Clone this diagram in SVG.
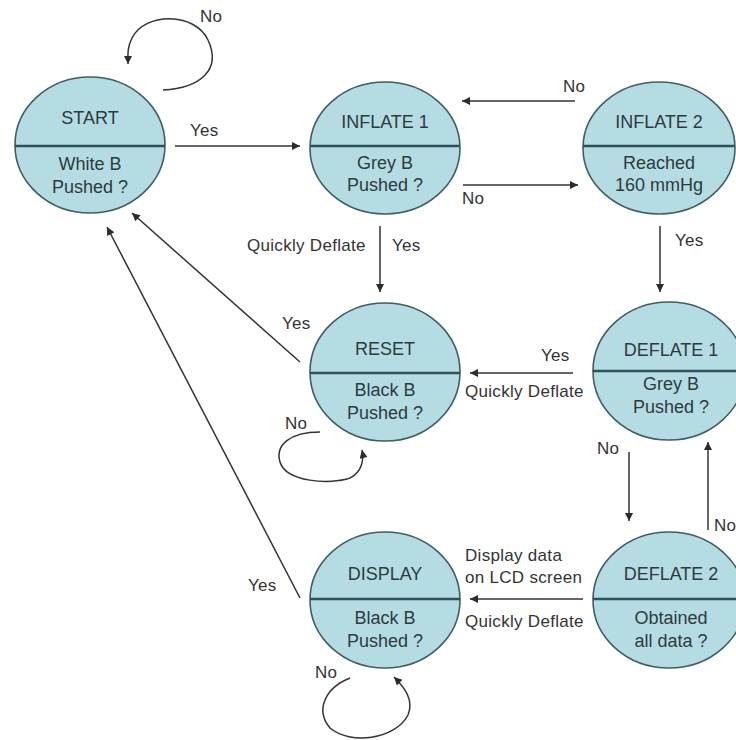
<svg xmlns="http://www.w3.org/2000/svg" width="736" height="740" viewBox="0 0 736 740">
<defs>
<marker id="ah" viewBox="0 0 10 10" refX="10" refY="5" markerWidth="9" markerHeight="8" markerUnits="userSpaceOnUse" orient="auto">
<path d="M0,0 L10,5 L0,10 z" fill="#2b2b2b"/>
</marker>
<style>
.node ellipse{fill:#b5dce2;stroke:#3f5d63;stroke-width:1.6}
.node line{stroke:#2e5058;stroke-width:2.6}
.nt{font-family:"Liberation Sans",Arial,sans-serif;font-size:18px;fill:#2c3b40;text-anchor:middle}
.lb{font-family:"Liberation Sans",Arial,sans-serif;font-size:17px;fill:#333;letter-spacing:0.3px}
.edge{fill:none;stroke:#333;stroke-width:1.5;marker-end:url(#ah)}
</style>
</defs>
<rect width="736" height="740" fill="#fff"/>
<g id="connectors">
<path class="edge" d="M163,90 C200,88 222,70 208,40 C195,12 145,12 132,38 C127,48 128,55 128,64"/>
<path class="edge" d="M175,146 L300,146"/>
<path class="edge" d="M575,101 L462,101"/>
<path class="edge" d="M463,185 L578,185"/>
<path class="edge" d="M380,226 L380,292"/>
<path class="edge" d="M660,226 L660,292"/>
<path class="edge" d="M573,373 L470,373"/>
<path class="edge" d="M300,362 L132,213"/>
<path class="edge" d="M320,432 C290,432 275,445 280,462 C286,482 330,485 350,478 C362,472 364,460 362,450"/>
<path class="edge" d="M629,452 L629,521"/>
<path class="edge" d="M708,530 L708,442"/>
<path class="edge" d="M583,599 L470,599"/>
<path class="edge" d="M300,598 L107,227"/>
<path class="edge" d="M350,678 C325,688 315,710 330,728 C350,745 395,740 408,715 C414,700 405,688 394,677"/>
</g>
<g id="START" class="node"><ellipse cx="90" cy="145" rx="75" ry="68"/><line x1="15" y1="146" x2="165" y2="146"/>
<text class="nt" x="90" y="124">START</text><text class="nt" x="90" y="170">White B</text><text class="nt" x="90" y="193">Pushed ?</text></g>
<g id="INFLATE1" class="node"><ellipse cx="385" cy="148" rx="75" ry="66"/><line x1="310" y1="146" x2="460" y2="146"/>
<text class="nt" x="385" y="128">INFLATE 1</text><text class="nt" x="385" y="169">Grey B</text><text class="nt" x="385" y="191">Pushed ?</text></g>
<g id="INFLATE2" class="node"><ellipse cx="659" cy="148" rx="76" ry="66"/><line x1="583" y1="146" x2="735" y2="146"/>
<text class="nt" x="659" y="128">INFLATE 2</text><text class="nt" x="659" y="169">Reached</text><text class="nt" x="659" y="191">160 mmHg</text></g>
<g id="RESET" class="node"><ellipse cx="385" cy="372" rx="75" ry="69"/><line x1="310" y1="373" x2="460" y2="373"/>
<text class="nt" x="385" y="355">RESET</text><text class="nt" x="385" y="396">Black B</text><text class="nt" x="385" y="419">Pushed ?</text></g>
<g id="DEFLATE1" class="node"><ellipse cx="669" cy="371" rx="76" ry="69"/><line x1="593" y1="371" x2="745" y2="371"/>
<text class="nt" x="671" y="356">DEFLATE 1</text><text class="nt" x="671" y="390">Grey B</text><text class="nt" x="671" y="413">Pushed ?</text></g>
<g id="DEFLATE2" class="node"><ellipse cx="669" cy="600" rx="76" ry="68"/><line x1="593" y1="599" x2="745" y2="599"/>
<text class="nt" x="671" y="580">DEFLATE 2</text><text class="nt" x="671" y="624">Obtained</text><text class="nt" x="671" y="647">all data ?</text></g>
<g id="DISPLAY" class="node"><ellipse cx="385" cy="600" rx="75" ry="68"/><line x1="310" y1="599" x2="460" y2="599"/>
<text class="nt" x="385" y="580">DISPLAY</text><text class="nt" x="385" y="624">Black B</text><text class="nt" x="385" y="647">Pushed ?</text></g>
<g id="labels">
<text class="lb" x="200" y="22">No</text>
<text class="lb" x="190" y="136">Yes</text>
<text class="lb" x="563" y="92">No</text>
<text class="lb" x="462" y="204">No</text>
<text class="lb" x="247" y="251">Quickly Deflate</text>
<text class="lb" x="392" y="251">Yes</text>
<text class="lb" x="675" y="246">Yes</text>
<text class="lb" x="282" y="329">Yes</text>
<text class="lb" x="541" y="361">Yes</text>
<text class="lb" x="465" y="397">Quickly Deflate</text>
<text class="lb" x="285" y="429">No</text>
<text class="lb" x="597" y="454">No</text>
<text class="lb" x="714" y="531">No</text>
<text class="lb" x="465" y="561">Display data</text>
<text class="lb" x="465" y="583">on LCD screen</text>
<text class="lb" x="465" y="627">Quickly Deflate</text>
<text class="lb" x="248" y="591">Yes</text>
<text class="lb" x="315" y="678">No</text>
</g>
</svg>
